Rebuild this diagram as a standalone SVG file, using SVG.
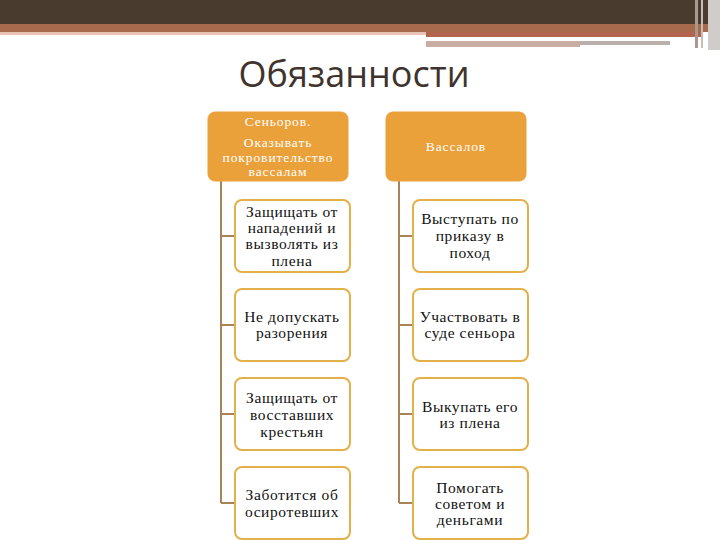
<svg xmlns="http://www.w3.org/2000/svg" width="720" height="540" viewBox="0 0 720 540">
<style>
.hdr{fill:#eba13a;stroke:#eba13a;stroke-width:1}
.box{fill:#ffffff;stroke:#e3b04a;stroke-width:2}
.ht{font-family:"Liberation Serif",serif;font-size:13.5px;letter-spacing:0.9px;fill:#ffffff;text-anchor:middle}
.bt{font-family:"Liberation Serif",serif;font-size:15.5px;letter-spacing:0.6px;fill:#111111;text-anchor:middle}
.con{stroke:#a98458;stroke-width:2;fill:none}
</style>
<rect x="0" y="0" width="720" height="540" fill="#ffffff"/>
<g id="header-band">
<rect x="0" y="0" width="720" height="24" fill="#4a3b2f"/>
<rect x="0" y="24" width="720" height="8" fill="#a86a4d"/>
<rect x="0" y="32" width="426" height="3" fill="#e6c3b4"/>
<rect x="426" y="32" width="275" height="5" fill="#b2644e"/>
<rect x="426" y="37" width="245" height="3" fill="#ffffff"/>
<rect x="426" y="41" width="154" height="6" fill="#c9ada2"/>
<rect x="580" y="41" width="90" height="4" fill="#b9b0ac"/>
<rect x="695" y="0" width="3" height="48" fill="#a89890"/>
<rect x="701" y="0" width="2" height="48" fill="#c8bcb6"/>
<rect x="708" y="0" width="12" height="50" fill="#d0ccca"/>
</g>
<text x="354" y="87" font-family="'Open Sans','DejaVu Sans',sans-serif" font-size="36" fill="#3f342d" text-anchor="middle">Обязанности</text>
<g id="connectors">
<path class="con" d="M221 181 V503 M221 236 H235 M221 325 H235 M221 414 H235 M221 503 H235"/>
<path class="con" d="M399 181 V503 M399 236 H413 M399 325 H413 M399 414 H413 M399 503 H413"/>
</g>
<g id="n-seniors">
<rect class="hdr" x="208" y="112" width="140" height="69" rx="7"/>
<text class="ht" x="278" y="126">Сеньоров.</text>
<text class="ht" x="278" y="147">Оказывать</text>
<text class="ht" x="278" y="162">покровительство</text>
<text class="ht" x="278" y="176">вассалам</text>
</g>
<g id="n-vassals">
<rect class="hdr" x="386" y="112" width="140" height="69" rx="7"/>
<text class="ht" x="456" y="151">Вассалов</text>
</g>
<g id="n-l1">
<rect class="box" x="235" y="200" width="115" height="72" rx="7"/>
<text class="bt" x="292" y="217">Защищать от</text>
<text class="bt" x="292" y="233">нападений и</text>
<text class="bt" x="292" y="249">вызволять из</text>
<text class="bt" x="292" y="266">плена</text>
</g>
<g id="n-l2">
<rect class="box" x="235" y="289" width="115" height="72" rx="7"/>
<text class="bt" x="292" y="322">Не допускать</text>
<text class="bt" x="292" y="338">разорения</text>
</g>
<g id="n-l3">
<rect class="box" x="235" y="378" width="115" height="72" rx="7"/>
<text class="bt" x="292" y="403">Защищать от</text>
<text class="bt" x="292" y="420">восставших</text>
<text class="bt" x="292" y="437">крестьян</text>
</g>
<g id="n-l4">
<rect class="box" x="235" y="467" width="115" height="72" rx="7"/>
<text class="bt" x="292" y="500">Заботится об</text>
<text class="bt" x="292" y="517">осиротевших</text>
</g>
<g id="n-r1">
<rect class="box" x="413" y="200" width="115" height="72" rx="7"/>
<text class="bt" x="470" y="224">Выступать по</text>
<text class="bt" x="470" y="241">приказу в</text>
<text class="bt" x="470" y="258">поход</text>
</g>
<g id="n-r2">
<rect class="box" x="413" y="289" width="115" height="72" rx="7"/>
<text class="bt" x="470" y="322">Участвовать в</text>
<text class="bt" x="470" y="338">суде сеньора</text>
</g>
<g id="n-r3">
<rect class="box" x="413" y="378" width="115" height="72" rx="7"/>
<text class="bt" x="470" y="412">Выкупать его</text>
<text class="bt" x="470" y="428">из плена</text>
</g>
<g id="n-r4">
<rect class="box" x="413" y="467" width="115" height="72" rx="7"/>
<text class="bt" x="470" y="493">Помогать</text>
<text class="bt" x="470" y="509">советом и</text>
<text class="bt" x="470" y="525">деньгами</text>
</g>
</svg>
